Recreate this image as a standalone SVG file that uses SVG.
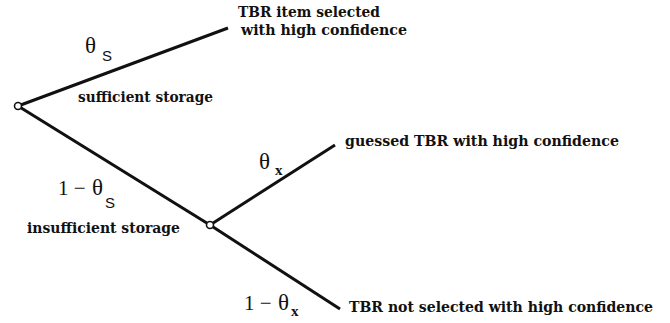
<svg xmlns="http://www.w3.org/2000/svg" width="670" height="323" viewBox="0 0 670 323">
  <style>
    .edge { stroke: #111; stroke-width: 3; stroke-linecap: butt; fill: none; }
    .node { fill: #fff; stroke: #111; stroke-width: 1.6; }
    .lbl { font-family: "DejaVu Serif", "Liberation Serif", serif; font-weight: bold; font-size: 14px; fill: #111; }
    .math { font-family: "Liberation Serif", "DejaVu Serif", serif; font-size: 21px; fill: #111; }
    .theta { font-family: "Liberation Serif", "DejaVu Serif", serif; font-size: 23px; fill: #111; }
    .subs { font-family: "Liberation Sans", "DejaVu Sans", sans-serif; font-size: 15px; fill: #111; }
    .subx { font-family: "Liberation Serif", "DejaVu Serif", serif; font-weight: bold; font-size: 15px; fill: #111; }
  </style>
  <rect width="670" height="323" fill="#fff"/>

  <!-- branches of the tree -->
  <g id="connectors">
    <line class="edge" x1="18" y1="106" x2="228" y2="28"/>
    <line class="edge" x1="18" y1="106" x2="210" y2="225"/>
    <line class="edge" x1="210" y1="225" x2="335" y2="145"/>
    <line class="edge" x1="210" y1="225" x2="340" y2="309"/>
  </g>

  <!-- branch probabilities and conditions -->
  <g id="edge-labels">
    <text class="theta" x="85" y="53">θ</text>
    <text class="subs" x="102" y="61">S</text>
    <text class="lbl" x="78" y="102" textLength="135" lengthAdjust="spacingAndGlyphs">sufficient storage</text>

    <text class="math" x="58" y="195">1 − </text>
    <text class="theta" x="92" y="195">θ</text>
    <text class="subs" x="105" y="208">S</text>
    <text class="lbl" x="27" y="233" textLength="153" lengthAdjust="spacingAndGlyphs">insufficient storage</text>

    <text class="theta" x="259" y="169">θ</text>
    <text class="subx" x="275" y="175">x</text>

    <text class="math" x="244" y="310">1 − </text>
    <text class="theta" x="278" y="310">θ</text>
    <text class="subx" x="291" y="316">x</text>
  </g>

  <g id="root">
    <circle class="node" cx="18" cy="106" r="3.5"/>
  </g>

  <g id="storage-split">
    <circle class="node" cx="210" cy="225" r="3.5"/>
  </g>

  <g id="outcome-selected">
    <text class="lbl" x="238" y="17" textLength="142" lengthAdjust="spacingAndGlyphs">TBR item selected</text>
    <text class="lbl" x="241" y="35" textLength="166" lengthAdjust="spacingAndGlyphs">with high confidence</text>
  </g>

  <g id="outcome-guessed">
    <text class="lbl" x="345" y="146" textLength="274" lengthAdjust="spacingAndGlyphs">guessed TBR with high confidence</text>
  </g>

  <g id="outcome-not-selected">
    <text class="lbl" x="349" y="312" textLength="304" lengthAdjust="spacingAndGlyphs">TBR not selected with high confidence</text>
  </g>
</svg>
